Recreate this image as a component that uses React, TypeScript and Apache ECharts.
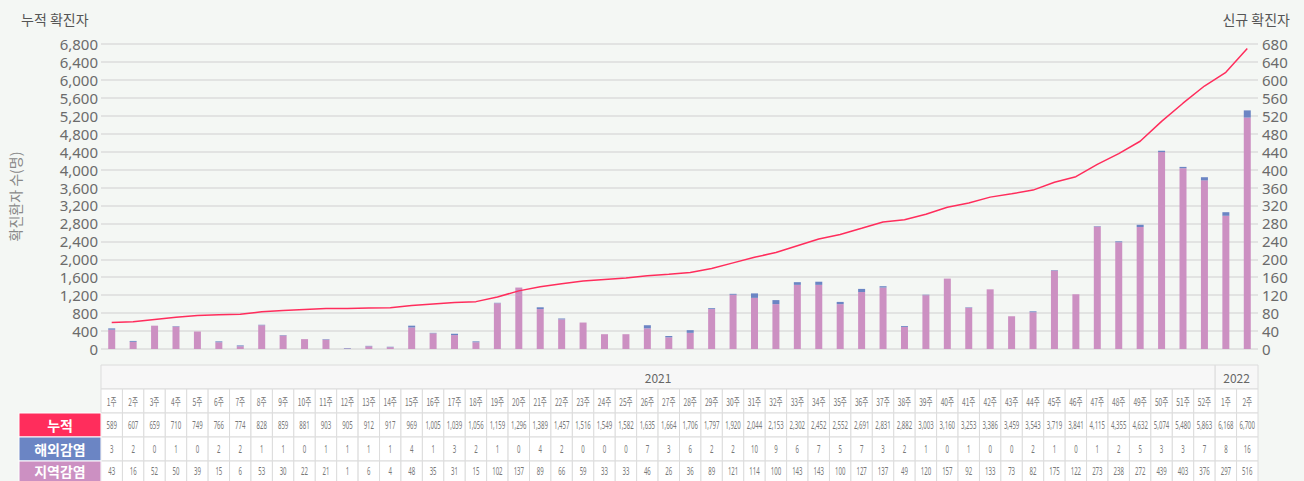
import React, { useEffect, useRef } from "react";
import * as echarts from "echarts";

const weekLabels = [
  "1주","2주","3주","4주","5주","6주","7주","8주","9주","10주","11주","12주","13주","14주","15주","16주","17주","18주","19주","20주",
  "21주","22주","23주","24주","25주","26주","27주","28주","29주","30주","31주","32주","33주","34주","35주","36주","37주","38주","39주","40주",
  "41주","42주","43주","44주","45주","46주","47주","48주","49주","50주","51주","52주","1주","2주",
];
const years = [
  { label: "2021", count: 52 },
  { label: "2022", count: 2 },
];
const cumulative = [
  589,607,659,710,749,766,774,828,859,881,903,905,912,917,
  969,1005,1039,1056,1159,1296,1389,1457,1516,1549,1582,1635,1664,1706,
  1797,1920,2044,2153,2302,2452,2552,2691,2831,2882,3003,3160,3253,
  3386,3459,3543,3719,3841,4115,4355,4632,5074,5480,5863,
  6168,6700,
];
const overseas = [
  3,2,0,1,0,2,2,1,1,0,1,1,1,1,
  4,1,3,2,1,0,4,2,0,0,0,7,3,6,
  2,2,10,9,6,7,5,7,3,2,1,0,1,
  0,0,2,1,0,1,2,5,3,3,7,
  8,16,
];
const local = [
  43,16,52,50,39,15,6,53,30,22,21,1,6,4,
  48,35,31,15,102,137,89,66,59,33,33,46,26,36,
  89,121,114,100,143,143,100,127,137,49,120,157,92,
  133,73,82,175,122,273,238,272,439,403,376,
  297,516,
];
const rowNames = ["누적", "해외감염", "지역감염"];
const rowColors = ["#ff2d5c", "#6b85c4", "#cc90c2"];

const FONT = "'Noto Sans CJK KR', 'Noto Sans', sans-serif";

export default function App() {
  const ref = useRef<HTMLDivElement>(null);
  useEffect(() => {
    document.body.style.margin = "0";
    const chart = echarts.init(ref.current!, undefined, { renderer: "svg" });
    const gridLeft = 96;
    const gridRight = 46;
    const gridTop = 44;
    const gridBottom = 132;
    chart.setOption({
      animation: false,
      backgroundColor: "#f4f7f4",
      textStyle: { fontFamily: FONT },
      title: [
        { text: "누적 확진자", left: 21, top: 12, padding: 0, textStyle: { fontSize: 14, fontWeight: "normal", color: "#555", fontFamily: FONT } },
        { text: "신규 확진자", right: 14, top: 12, padding: 0, textStyle: { fontSize: 14, fontWeight: "normal", color: "#555", fontFamily: FONT } },
      ],
      grid: { left: gridLeft, right: gridRight, top: gridTop, bottom: gridBottom },
      xAxis: {
        type: "category",
        data: weekLabels,
        boundaryGap: true,
        axisLine: { show: false },
        axisTick: { show: false },
        axisLabel: { show: false },
      },
      yAxis: [
        {
          type: "value",
          min: 0,
          max: 6800,
          interval: 400,
          name: "확진환자 수(명)",
          nameLocation: "middle",
          nameGap: 79,
          nameRotate: 90,
          nameTextStyle: { color: "#888", fontSize: 14, fontFamily: FONT },
          axisLine: { show: false },
          axisTick: { show: false },
          axisLabel: { color: "#6b6b6b", fontSize: 15, lineHeight: 15, margin: 3, fontFamily: "'Noto Sans', sans-serif", formatter: (v: number) => v.toLocaleString("en-US") },
          splitLine: { lineStyle: { color: "#dcdcdc", width: 1.5 } },
        },
        {
          type: "value",
          min: 0,
          max: 680,
          interval: 40,
          axisLine: { show: false },
          axisTick: { show: false },
          axisLabel: { color: "#6b6b6b", fontSize: 15, lineHeight: 15, margin: 4, fontFamily: "'Noto Sans', sans-serif" },
          splitLine: { show: false },
        },
      ],
      series: [
        {
          name: "지역감염",
          type: "bar",
          yAxisIndex: 1,
          stack: "new",
          barWidth: 7,
          itemStyle: { color: rowColors[2] },
          data: local,
        },
        {
          name: "해외감염",
          type: "bar",
          yAxisIndex: 1,
          stack: "new",
          barWidth: 7,
          itemStyle: { color: rowColors[1] },
          data: overseas,
        },
        {
          name: "누적",
          type: "line",
          yAxisIndex: 0,
          showSymbol: false,
          symbol: "none",
          lineStyle: { color: "#ff2d5c", width: 1.5 },
          data: cumulative,
          z: 5,
        },
      ],
    });

    // Data table under the chart, columns aligned with the category axis
    const centers = weekLabels.map((_, i) => chart.convertToPixel({ xAxisIndex: 0 }, i) as number);
    const cw = centers[1] - centers[0];
    const x0 = centers[0] - cw / 2;
    const rows = [
      { y: 365, h: 24 },
      { y: 389, h: 24 },
      { y: 413, h: 24 },
      { y: 437, h: 24 },
      { y: 461, h: 24 },
    ];
    const border = "#dcdcdc";
    const els: any[] = [];
    let start = 0;
    years.forEach((yr) => {
      const xs = x0 + start * cw;
      const w = yr.count * cw;
      els.push({ type: "rect", shape: { x: xs, y: rows[0].y, width: w, height: rows[0].h }, style: { fill: "#f7f7f7", stroke: border, lineWidth: 1 } });
      els.push({ type: "text", x: xs + w / 2, y: rows[0].y + rows[0].h / 2, style: { text: yr.label, fill: "#666", fontSize: 12, fontFamily: FONT, align: "center", verticalAlign: "middle" } });
      start += yr.count;
    });
    const dataRows = [
      cumulative.map((v) => v.toLocaleString("en-US")),
      overseas.map(String),
      local.map(String),
    ];
    weekLabels.forEach((wk, i) => {
      const xs = x0 + i * cw;
      const cx = centers[i];
      els.push({ type: "rect", shape: { x: xs, y: rows[1].y, width: cw, height: rows[1].h }, style: { fill: "#ffffff", stroke: border, lineWidth: 1 } });
      els.push({ type: "text", x: cx, y: rows[1].y + rows[1].h / 2, scaleX: 0.6, style: { text: wk, fill: "#777", fontSize: 11, fontFamily: FONT, align: "center", verticalAlign: "middle" } });
      dataRows.forEach((vals, r) => {
        const row = rows[r + 2];
        els.push({ type: "rect", shape: { x: xs, y: row.y, width: cw, height: row.h }, style: { fill: "#ffffff", stroke: border, lineWidth: 1 } });
        els.push({ type: "text", x: cx, y: Math.min(row.y + row.h / 2, 471), scaleX: 0.55, style: { text: vals[i], fill: "#777", fontSize: 11, fontFamily: "'Noto Sans', sans-serif", align: "center", verticalAlign: "middle" } });
      });
    });
    rowNames.forEach((name, r) => {
      const row = rows[r + 2];
      els.push({ type: "rect", shape: { x: 19, y: row.y, width: x0 - 19, height: row.h }, style: { fill: rowColors[r], stroke: "#ffffff", lineWidth: 1 } });
      els.push({ type: "text", x: (19 + x0) / 2, y: Math.min(row.y + row.h / 2, 471), style: { text: name, fill: "#ffffff", fontSize: 14, fontWeight: "bold", fontFamily: FONT, align: "center", verticalAlign: "middle" } });
    });
    chart.setOption({ graphic: { elements: els } });

    return () => chart.dispose();
  }, []);
  return <div ref={ref} style={{ position: "absolute", left: 0, top: 0, width: 1304, height: 481 }} />;
}
